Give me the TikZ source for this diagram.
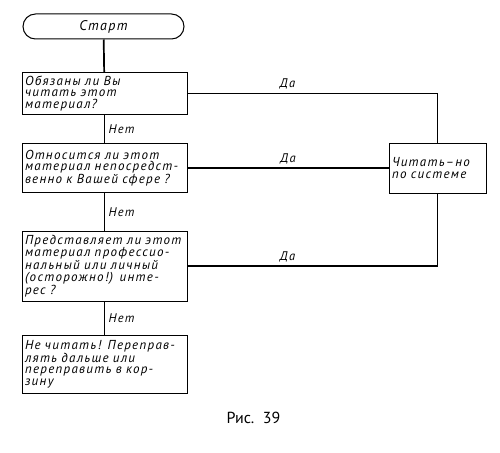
\documentclass[tikz,border=0pt]{standalone}
\usepackage{fontspec}
\setmainfont{DejaVu Sans}
\newfontfamily\gostfont[LetterSpace=10,WordSpace=1.8]{PT Sans Italic}
\newfontfamily\capfont{PT Sans}
\usetikzlibrary{positioning}

\tikzset{
  block/.style={draw,line width=1pt,align=left,text width=159pt,inner sep=3pt,
    font=\fontsize{13}{11.6}\gostfont},
  startblock/.style={draw,line width=1pt,rounded corners=12.5pt,minimum width=161pt,
    minimum height=25pt,font=\fontsize{14}{14}\gostfont},
  link/.style={draw,line width=1.7pt},
  answer/.style={font=\fontsize{12.5}{12.5}\gostfont}
}

\begin{document}
\begin{tikzpicture}[x=1pt,y=-1pt]
		\useasboundingbox (0,0) rectangle (500,452);
		\node[startblock] (start) at (103.5,26.5) {Старт};
		\node[block,minimum height=37pt] (q1) at (104.5,93.5) {Обязаны ли Вы\\читать этот\\материал?};
		\node[block,minimum height=49pt] (q2) at (104.5,168) {Относится ли этот\\материал непосредст-\\венно к Вашей сфере ?};
		\node[block,minimum height=70pt] (q3) at (104.5,266) {Представляет ли этот\\материал профессио-\\нальный или личный\\(осторожно!) инте-\\рес ?};
		\node[block,minimum height=58pt] (skip) at (104.5,364) {Не читать! Перепрaв-\\лять дальше или\\переправить в кор-\\зину};
		\node[block,text width=91pt,minimum height=50pt] (read) at (437.5,168) {Читать–но\\по системе};
		\node[font=\fontsize{16}{18}\capfont] (cap) at (253.5,418) {Рис.~~39};
		%
		\path[link]
		(start) edge (q1)
		(q1) edge node[answer,right]{Нет} (q2)
		(q2) edge node[answer,right]{Нет} (q3)
		(q3) edge node[answer,right]{Нет} (skip);
		\draw[link] (q1) -| node[answer,pos=0.2,above=0pt]{Да} (read);
		\draw[link] (q2) -- node[answer,above=0pt]{Да} (read);
		\draw[link] (q3) -| node[answer,pos=0.2,above=0pt]{Да} (read);
\end{tikzpicture}
\end{document}
